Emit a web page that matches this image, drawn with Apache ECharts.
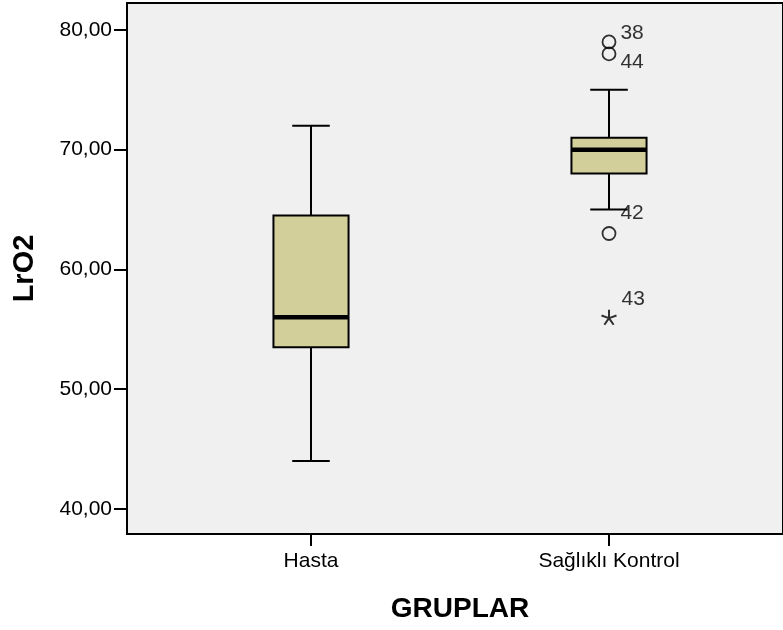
<!DOCTYPE html>
<html><head><meta charset="utf-8">
<script src="https://cdn.jsdelivr.net/npm/echarts@6/dist/echarts.min.js"></script>
<style>html,body{margin:0;padding:0;background:#fff}#c{width:783px;height:630px}</style>
</head><body><div id="c"></div>
<script>
const categories = ['Hasta', 'Sağlıklı Kontrol'];
// [min, Q1, median, Q3, max]
const boxMin = [44, 65];
const boxQ1 = [53.5, 68];
const boxMedian = [56, 70];
const boxQ3 = [64.5, 71];
const boxMax = [72, 75];
const outlierCategory = [1, 1, 1];
const outlierValues = [79, 78, 63];
const outlierIds = ['38', '44', '42'];
const extremeCategory = [1];
const extremeValues = [56];
const extremeIds = ['43'];
const yTicks = [40, 50, 60, 70, 80];
const yTickLabels = ['40,00', '50,00', '60,00', '70,00', '80,00'];

const outlierLabelDy = [-9, 8, -20];
const extremeLabelDy = [-18];

const FONT = "'Liberation Sans', Arial, sans-serif";
const chart = echarts.init(document.getElementById('c'), null, {renderer: 'canvas'});

const boxData = categories.map((c, i) => [i, boxMin[i], boxQ1[i], boxMedian[i], boxQ3[i], boxMax[i]]);

function renderBox(params, api) {
  const x = api.value(0);
  const pMin = api.coord([x, api.value(1)]);
  const pQ1 = api.coord([x, api.value(2)]);
  const pMed = api.coord([x, api.value(3)]);
  const pQ3 = api.coord([x, api.value(4)]);
  const pMax = api.coord([x, api.value(5)]);
  const bw = api.size([1, 0])[0] * 0.252;
  const cw = bw / 2;
  const cx = pMed[0];
  const ls = {stroke: '#000', lineWidth: 2};
  return {type: 'group', children: [
    {type: 'line', shape: {x1: cx, y1: pMax[1], x2: cx, y2: pQ3[1]}, style: ls},
    {type: 'line', shape: {x1: cx, y1: pQ1[1], x2: cx, y2: pMin[1]}, style: ls},
    {type: 'line', shape: {x1: cx - cw / 2, y1: pMax[1], x2: cx + cw / 2, y2: pMax[1]}, style: ls},
    {type: 'line', shape: {x1: cx - cw / 2, y1: pMin[1], x2: cx + cw / 2, y2: pMin[1]}, style: ls},
    {type: 'rect', shape: {x: cx - bw / 2, y: pQ3[1], width: bw, height: pQ1[1] - pQ3[1]},
      style: {fill: '#d3cf9b', stroke: '#000', lineWidth: 2}},
    {type: 'line', shape: {x1: cx - bw / 2, y1: pMed[1], x2: cx + bw / 2, y2: pMed[1]},
      style: {stroke: '#000', lineWidth: 4.5}}
  ]};
}

const option = {
  animation: false,
  backgroundColor: '#ffffff',
  textStyle: {fontFamily: FONT},
  grid: [
    {left: 162, right: 25, top: 3, bottom: 96, show: false},
    {left: 127, right: -20, top: 3, bottom: 96, show: true, backgroundColor: '#f0f0f0',
      borderColor: '#000', borderWidth: 2, z: 0}
  ],
  xAxis: [
    {type: 'category', gridIndex: 0, data: categories, boundaryGap: true,
      axisLine: {show: false},
      axisTick: {show: true, alignWithLabel: true, length: 12, lineStyle: {color: '#000', width: 2}},
      axisLabel: {margin: 17, fontSize: 21, color: '#000', fontFamily: FONT},
      splitLine: {show: false},
      name: 'GRUPLAR', nameLocation: 'middle', nameGap: 61,
      nameTextStyle: {fontSize: 28, fontWeight: 'bold', color: '#000', fontFamily: FONT}},
    {type: 'value', gridIndex: 1, show: false}
  ],
  yAxis: [
    {type: 'value', gridIndex: 0, min: 37.9, max: 82.25, offset: 35,
      axisLine: {show: false},
      axisTick: {show: true, length: 13, customValues: yTicks, lineStyle: {color: '#000', width: 2}},
      axisLabel: {margin: 15, fontSize: 21, color: '#000', fontFamily: FONT, customValues: yTicks,
        formatter: v => yTickLabels[yTicks.indexOf(v)] || ''},
      splitLine: {show: false},
      name: 'LrO2', nameLocation: 'middle', nameGap: 88,
      nameTextStyle: {fontSize: 29, fontWeight: 'bold', color: '#000', fontFamily: FONT}},
    {type: 'value', gridIndex: 1, show: false}
  ],
  series: [
    {type: 'custom', xAxisIndex: 0, yAxisIndex: 0, data: boxData, renderItem: renderBox,
      encode: {x: 0, y: [1, 2, 3, 4, 5]}, z: 2},
    {type: 'scatter', xAxisIndex: 0, yAxisIndex: 0, symbol: 'circle', symbolSize: 13, z: 3,
      itemStyle: {color: 'rgba(0,0,0,0)', borderColor: '#000', borderWidth: 1.8},
      data: outlierValues.map((v, i) => ({
        value: [outlierCategory[i], v, outlierIds[i]],
        label: {offset: [0, outlierLabelDy[i]]}
      })),
      label: {show: true, position: 'right', distance: 4, fontSize: 21, color: '#000', fontFamily: FONT,
        formatter: p => p.value[2]}},
    {type: 'scatter', xAxisIndex: 0, yAxisIndex: 0, z: 3,
      symbol: 'path://M0,0 L0,-1 M0,0 L0.951,-0.309 M0,0 L0.588,0.809 M0,0 L-0.588,0.809 M0,0 L-0.951,-0.309',
      symbolSize: 15,
      itemStyle: {color: 'rgba(0,0,0,0)', borderColor: '#000', borderWidth: 2},
      data: extremeValues.map((v, i) => ({
        value: [extremeCategory[i], v, extremeIds[i]],
        label: {offset: [0, extremeLabelDy[i]]}
      })),
      label: {show: true, position: 'right', distance: 4, fontSize: 21, color: '#000', fontFamily: FONT,
        formatter: p => p.value[2]}}
  ]
};
chart.setOption(option);
</script>
</body></html>
